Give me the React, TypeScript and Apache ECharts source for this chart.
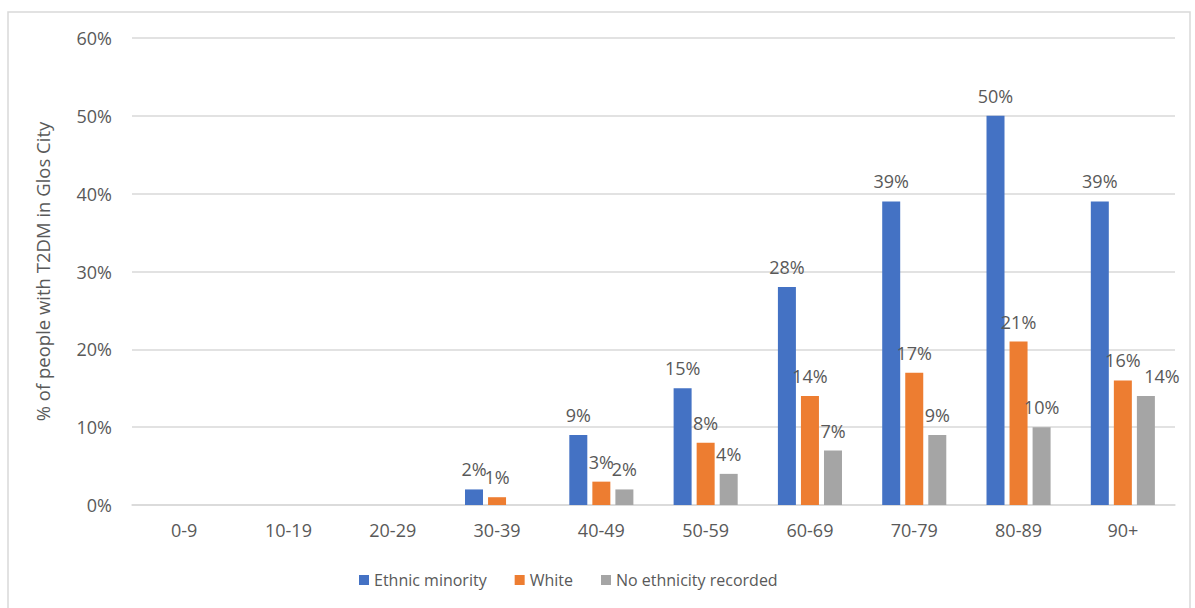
import React, { useEffect, useRef } from "react";
import * as echarts from "echarts";

const categories = ["0-9", "10-19", "20-29", "30-39", "40-49", "50-59", "60-69", "70-79", "80-89", "90+"];
const ethnicMinority = [null, null, null, 2, 9, 15, 28, 39, 50, 39];
const white = [null, null, null, 1, 3, 8, 14, 17, 21, 16];
const noEthnicity = [null, null, null, null, 2, 4, 7, 9, 10, 14];
const seriesNames = ["Ethnic minority", "White", "No ethnicity recorded"];
const colors = ["#4472C4", "#ED7D31", "#A5A5A5"];

const FONT = "'Open Sans', 'Noto Sans', sans-serif";
const TEXT = "#595959";

export default function App() {
  const ref = useRef<HTMLDivElement>(null);

  useEffect(() => {
    if (!ref.current) return;
    const chart = echarts.init(ref.current, null, { renderer: "svg" });
    const label = {
      show: true,
      position: "top" as const,
      distance: 11,
      color: TEXT,
      fontSize: 18,
      fontFamily: FONT,
      formatter: (p: any) => (p.value == null ? "" : p.value + "%"),
    };
    const mk = (name: string, data: any[], color: string) => ({
      name,
      type: "bar",
      data,
      barWidth: 18,
      barGap: "28%",
      itemStyle: { color },
      label,
    });
    // the last gray label is nudged right so it clears its neighbour
    const grayData = noEthnicity.map((v, i) =>
      i === noEthnicity.length - 1 ? { value: v, label: { offset: [16, 0] } } : v
    );
    chart.setOption({
      animation: false,
      textStyle: { fontFamily: FONT },
      graphic: [
        {
          type: "rect",
          shape: { x: 8, y: 12, width: 1182, height: 610 },
          style: { fill: "none", stroke: "#D9D9D9", lineWidth: 1.5 },
          silent: true,
        },
      ],
      grid: { left: 132, right: 20, top: 38, bottom: 103 },
      legend: {
        top: 567,
        left: 354,
        itemWidth: 10,
        itemHeight: 10,
        itemGap: 28,
        icon: "rect",
        textStyle: { color: TEXT, fontSize: 16, fontFamily: FONT },
        data: seriesNames,
      },
      xAxis: {
        type: "category",
        data: categories,
        axisLine: { lineStyle: { color: "#D9D9D9", width: 1.5 } },
        axisTick: { show: false },
        axisLabel: { color: TEXT, fontSize: 18, fontFamily: FONT, margin: 16 },
      },
      yAxis: {
        type: "value",
        min: 0,
        max: 60,
        interval: 10,
        name: "% of people with T2DM in Glos City",
        nameLocation: "middle",
        nameGap: 80,
        nameTextStyle: { color: TEXT, fontSize: 18.5, fontFamily: FONT },
        axisLine: { show: false },
        axisTick: { show: false },
        axisLabel: { color: TEXT, fontSize: 18, fontFamily: FONT, margin: 20, formatter: "{value}%" },
        splitLine: { lineStyle: { color: "#D9D9D9", width: 1.5 } },
      },
      series: [
        mk(seriesNames[0], ethnicMinority, colors[0]),
        mk(seriesNames[1], white, colors[1]),
        mk(seriesNames[2], grayData, colors[2]),
      ],
    });
    return () => chart.dispose();
  }, []);

  return (
    <div
      ref={ref}
      style={{ position: "absolute", left: 0, top: 0, width: 1195, height: 608, background: "#fff" }}
    />
  );
}
